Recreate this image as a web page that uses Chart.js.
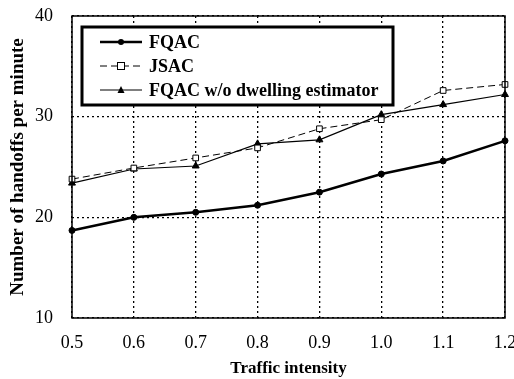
<!DOCTYPE html>
<html>
<head>
<meta charset="utf-8">
<script src="https://cdn.jsdelivr.net/npm/chart.js@4/dist/chart.umd.min.js"></script>
<style>
  html, body { margin: 0; padding: 0; background: #fff; }
  #wrap { width: 514px; height: 379px; }
</style>
</head>
<body>
<div id="wrap"><canvas id="chart" width="514" height="379"></canvas></div>
<script>
// traffic intensity values on the x axis
const intensity = ['0.5', '0.6', '0.7', '0.8', '0.9', '1.0', '1.1', '1.2'];

// handoffs per minute
const fqac = [18.7, 20.0, 20.5, 21.2, 22.5, 24.3, 25.6, 27.6];
const jsac = [23.8, 24.9, 25.9, 26.9, 28.8, 29.7, 32.6, 33.2];
const fqacNoDwell = [23.4, 24.8, 25.1, 27.3, 27.7, 30.2, 31.2, 32.2];

const yTicks = [10, 20, 30, 40];

const serif = '"Liberation Serif", "Times New Roman", serif';

// legend box inside the plot + solid frame around it
const framePlugin = {
  id: 'frame',
  afterDraw(chart) {
    const { ctx, chartArea: a } = chart;
    ctx.save();
    ctx.strokeStyle = '#000';
    ctx.lineWidth = 1.5;
    ctx.strokeRect(a.left, a.top, a.right - a.left, a.bottom - a.top);

    // legend
    const bx = 82, by = 27, bw = 311, bh = 78;
    ctx.fillStyle = '#fff';
    ctx.fillRect(bx, by, bw, bh);
    ctx.lineWidth = 3;
    ctx.strokeRect(bx, by, bw, bh);

    ctx.font = 'bold 18px ' + serif;
    ctx.textBaseline = 'middle';
    chart.data.datasets.forEach((ds, i) => {
      const y = by + 15 + i * 24;
      const x0 = bx + 18, x1 = bx + 60;
      ctx.strokeStyle = '#000';
      ctx.lineWidth = ds.borderWidth;
      ctx.setLineDash(ds.borderDash || []);
      ctx.beginPath();
      ctx.moveTo(x0, y);
      ctx.lineTo(x1, y);
      ctx.stroke();
      ctx.setLineDash([]);
      const mx = (x0 + x1) / 2;
      ctx.lineWidth = 1;
      if (ds.pointStyle === 'circle') {
        ctx.fillStyle = '#000';
        ctx.beginPath();
        ctx.arc(mx, y, 3, 0, Math.PI * 2);
        ctx.fill();
      } else if (ds.pointStyle === 'rect') {
        ctx.fillStyle = '#fff';
        ctx.fillRect(mx - 3.5, y - 3.5, 7, 7);
        ctx.strokeRect(mx - 3.5, y - 3.5, 7, 7);
      } else {
        ctx.fillStyle = '#000';
        ctx.beginPath();
        ctx.moveTo(mx, y - 4);
        ctx.lineTo(mx + 3.5, y + 3);
        ctx.lineTo(mx - 3.5, y + 3);
        ctx.closePath();
        ctx.fill();
      }
      ctx.fillStyle = '#000';
      ctx.fillText(ds.label, x1 + 7, y + 1);
    });
    ctx.restore();
  }
};

new Chart(document.getElementById('chart'), {
  type: 'line',
  data: {
    labels: intensity,
    datasets: [
      {
        label: 'FQAC',
        data: fqac,
        borderColor: '#000',
        backgroundColor: '#000',
        borderWidth: 2.5,
        pointStyle: 'circle',
        pointRadius: 3,
        pointBorderWidth: 1,
        tension: 0
      },
      {
        label: 'JSAC',
        data: jsac,
        borderColor: '#000',
        backgroundColor: '#fff',
        borderWidth: 1,
        borderDash: [7, 4],
        pointStyle: 'rect',
        pointRadius: 4,
        pointBorderWidth: 1,
        tension: 0
      },
      {
        label: 'FQAC w/o dwelling estimator',
        data: fqacNoDwell,
        borderColor: '#000',
        backgroundColor: '#000',
        borderWidth: 1.2,
        pointStyle: 'triangle',
        pointRadius: 4,
        pointBorderWidth: 1,
        tension: 0
      }
    ]
  },
  options: {
    responsive: false,
    animation: false,
    layout: { padding: { top: 16, right: 9, left: 0, bottom: 0 } },
    plugins: {
      legend: { display: false },
      tooltip: { enabled: false }
    },
    scales: {
      x: {
        offset: false,
        afterFit: (s) => { s.height = 61; s.paddingLeft = 0; s.paddingRight = 0; },
        grid: {
          color: '#000',
          lineWidth: 1.3,
          drawTicks: false
        },
        border: { display: false, dash: [2, 3] },
        ticks: {
          color: '#000',
          font: { family: serif, size: 18 },
          padding: 14,
          maxRotation: 0
        },
        title: {
          display: true,
          text: 'Traffic intensity',
          color: '#000',
          font: { family: serif, size: 17, weight: 'bold' },
          padding: { top: 2, bottom: 0 }
        }
      },
      y: {
        min: 10,
        max: 40,
        afterFit: (s) => { s.width = 72; s.paddingTop = 0; s.paddingBottom = 0; },
        afterBuildTicks: (s) => { s.ticks = yTicks.map(v => ({ value: v })); },
        grid: {
          color: '#000',
          lineWidth: 1.3,
          drawTicks: false
        },
        border: { display: false, dash: [2, 3] },
        ticks: {
          color: '#000',
          font: { family: serif, size: 18 },
          padding: 19
        },
        title: {
          display: true,
          text: 'Number of handoffs per minute',
          color: '#000',
          font: { family: serif, size: 19, weight: 'bold' },
          padding: { top: 7, bottom: 0 }
        }
      }
    }
  },
  plugins: [framePlugin]
});
</script>
</body>
</html>
